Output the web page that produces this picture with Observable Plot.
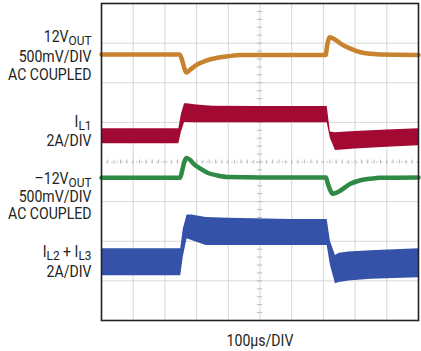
<!DOCTYPE html>
<html>
<head>
<meta charset="utf-8">
<script src="https://cdn.jsdelivr.net/npm/d3@7"></script>
<script src="https://cdn.jsdelivr.net/npm/@observablehq/plot@0.6"></script>
<style>
  html, body { margin: 0; padding: 0; background: #fff; }
  #chart { width: 421px; height: 351px; }
</style>
</head>
<body>
<div id="chart"></div>
<script>
// ---- Data (time in µs, amplitude in screen divisions) ----
const orangeT = [0, 247, 255, 262, 268, 280, 300, 330, 366, 400, 438, 500, 600, 707, 712, 720, 735, 754, 785, 817, 850, 880, 1000];
const orangeV = [2.71, 2.71, 2.55, 2.35, 2.26, 2.33, 2.45, 2.56, 2.63, 2.67, 2.70, 2.70, 2.70, 2.70, 2.95, 3.15, 3.10, 2.99, 2.86, 2.77, 2.73, 2.71, 2.70];

const greenT = [0, 248, 255, 262, 268, 280, 290, 312, 334, 366, 400, 500, 600, 708, 714, 722, 729, 740, 754, 785, 817, 850, 880, 1000];
const greenV = [-0.40, -0.40, -0.20, 0.02, 0.10, 0.05, -0.04, -0.17, -0.27, -0.34, -0.38, -0.39, -0.39, -0.39, -0.55, -0.72, -0.80, -0.78, -0.72, -0.55, -0.46, -0.42, -0.40, -0.39];

const redT  = [0, 244, 252, 262, 270, 300, 350, 500, 712, 722, 738, 760, 800, 900, 1000];
const redHi = [0.84, 0.84, 1.20, 1.47, 1.47, 1.44, 1.41, 1.40, 1.40, 0.76, 0.74, 0.75, 0.77, 0.81, 0.84];
const redLo = [0.46, 0.46, 0.75, 1.00, 1.00, 0.99, 0.99, 0.99, 0.99, 0.60, 0.29, 0.30, 0.33, 0.37, 0.41];

const blueT  = [0, 250, 258, 270, 285, 330, 400, 600, 712, 722, 738, 750, 780, 850, 1000];
const blueHi = [-2.19, -2.19, -1.70, -1.34, -1.34, -1.40, -1.42, -1.45, -1.45, -2.00, -2.36, -2.30, -2.27, -2.24, -2.19];
const blueLo = [-2.87, -2.87, -2.40, -1.94, -1.98, -2.11, -2.11, -2.11, -2.11, -2.60, -3.07, -3.04, -3.00, -2.96, -2.92];

const labelText = ["12V_{OUT}", "500mV/DIV", "AC COUPLED", "I_{L1}", "2A/DIV", "\u201312V_{OUT}", "500mV/DIV", "AC COUPLED", "I_{L2} + I_{L3}", "2A/DIV"];
const labelY    = [3.016, 2.519, 2.057, 0.871, 0.416, -0.543, -0.997, -1.426, -2.41, -2.89];
const xLabel = "100\u00b5s/DIV";

const gridX = d3.range(100, 1000, 100);
const gridY = [-3, -2, -1, 1, 2, 3];
const minorX = d3.range(0, 1001, 20);
const minorY = d3.range(-4, 4.001, 0.2);

const colors = {orange: "#c8832f", red: "#a20a33", green: "#2f8a45", blue: "#3452a8"};
const font = "Roboto, 'Liberation Sans', sans-serif";

const orange = orangeT.map((t, i) => ({t, v: orangeV[i]}));
const green = greenT.map((t, i) => ({t, v: greenV[i]}));
const red = redT.map((t, i) => ({t, hi: redHi[i], lo: redLo[i]}));
const blue = blueT.map((t, i) => ({t, hi: blueHi[i], lo: blueLo[i]}));
const labels = labelText.map((s, i) => ({s, y: labelY[i]}));

const chart = Plot.plot({
  width: 421,
  height: 351,
  marginLeft: 101,
  marginRight: 3,
  marginTop: 3,
  marginBottom: 31,
  x: {domain: [0, 1000], axis: null},
  y: {domain: [-4, 4], axis: null},
  style: {fontFamily: font, background: "#fff"},
  marks: [
    Plot.ruleX(gridX, {stroke: "#d6d6d6", strokeWidth: 1}),
    Plot.ruleY(gridY, {stroke: "#d6d6d6", strokeWidth: 1}),
    Plot.ruleY([0], {stroke: "#c8c8c8", strokeWidth: 1, strokeDasharray: "2,3"}),
    Plot.ruleX(minorX, {y1: -0.05, y2: 0.05, stroke: "#bbb", strokeWidth: 1}),
    Plot.ruleY(minorY, {x1: 492, x2: 508, stroke: "#bbb", strokeWidth: 1}),
    Plot.line(orange, {x: "t", y: "v", stroke: colors.orange, strokeWidth: 4.5, curve: "monotone-x"}),
    Plot.areaY(red, {x: "t", y1: "lo", y2: "hi", fill: colors.red}),
    Plot.line(green, {x: "t", y: "v", stroke: colors.green, strokeWidth: 4.5, curve: "monotone-x"}),
    Plot.areaY(blue, {x: "t", y1: "lo", y2: "hi", fill: colors.blue}),
    Plot.frame({stroke: "#222", strokeWidth: 1.6}),
    Plot.text(labels, {frameAnchor: "left", y: "y", text: "s", dx: -10, textAnchor: "end", lineAnchor: "bottom", fontSize: 16, fill: "#231f20", className: "lbl"}),
    Plot.text([xLabel], {x: 500, frameAnchor: "bottom", text: d => d, dy: 25, lineAnchor: "bottom", fontSize: 16, fill: "#231f20", className: "lbl"})
  ]
});

// Render subscripts (_{...}) as tspans, and condense the label type
const NS = "http://www.w3.org/2000/svg";
chart.querySelectorAll("text").forEach(t => {
  const tr = t.getAttribute("transform");
  if (tr) t.setAttribute("transform", tr + " scale(0.88,1)");
  const s = t.textContent;
  if (!s.includes("_{")) return;
  t.textContent = "";
  const re = /_\{([^}]*)\}/g;
  let last = 0, m, shifted = false;
  const add = (txt, sub) => {
    const sp = document.createElementNS(NS, "tspan");
    sp.textContent = txt;
    if (sub) { sp.setAttribute("font-size", "13.5"); if (!shifted) { sp.setAttribute("dy", "3"); shifted = true; } }
    else if (shifted) { sp.setAttribute("dy", "-3"); shifted = false; }
    t.appendChild(sp);
  };
  while ((m = re.exec(s))) {
    if (m.index > last) add(s.slice(last, m.index), false);
    add(m[1], true);
    last = m.index + m[0].length;
  }
  if (last < s.length) add(s.slice(last), false);
});

document.getElementById("chart").appendChild(chart);
</script>
</body>
</html>
